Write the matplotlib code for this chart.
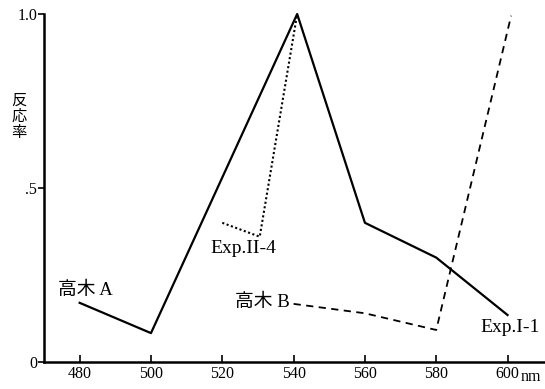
import matplotlib.pyplot as plt
import numpy as np

plt.rcParams['font.family'] = ['Liberation Serif', 'Noto Sans CJK JP']

# 高木 A / Exp.I-1 (solid)
xa = [480, 500, 541, 560, 580, 600]
ya = [0.17, 0.083, 1.0, 0.40, 0.30, 0.135]
# Exp.II-4 (dotted)
xd = [520, 530.5, 541]
yd = [0.40, 0.36, 1.0]
# 高木 B (dashed)
xb = [540, 560, 580, 601]
yb = [0.167, 0.14, 0.092, 0.995]

xticks = [480, 500, 520, 540, 560, 580, 600]
yticks = [0, 0.5, 1.0]
yticklabels = ['0', '.5', '1.0']

fig = plt.figure(figsize=(5.45, 3.89), dpi=100)
ax = fig.add_axes([44/545, 1-362/389, 1-44/545, 348/389])

ax.plot(xa, ya, color='black', lw=1.6, clip_on=False)
ax.plot(xd, yd, color='black', lw=1.5, ls=(0, (1, 1.2)), clip_on=False)
ax.plot(xb, yb, color='black', lw=1.3, ls=(0, (4, 3)), clip_on=False)

ax.set_xlim(470, 610.5)
ax.set_ylim(0, 1.0)
ax.spines['top'].set_visible(False)
ax.spines['right'].set_visible(False)
ax.spines['left'].set_linewidth(1.8)
ax.spines['bottom'].set_linewidth(1.8)

ax.set_xticks(xticks)
ax.set_xticklabels([str(t) for t in xticks], fontsize=11.5)
ax.tick_params(axis='x', direction='in', length=5, width=1.2, pad=3)
ax.set_yticks(yticks)
ax.set_yticklabels(yticklabels, fontsize=11.5)
ax.tick_params(axis='y', direction='out', length=4, width=1.2, pad=1)

fig.text(541/545, 1-377/389, 'nm', fontsize=11.5, ha='right', va='center')
for i, ch in enumerate('反応率'):
    fig.text(19/545, 1-(101 + i*16)/389, ch, fontsize=11, ha='center', va='center')

ax.text(474, 0.207, '高木 A', fontsize=13.5, ha='left', va='center')
ax.text(539, 0.17, '高木 B', fontsize=13.5, ha='right', va='center')
ax.text(525.8, 0.325, 'Exp.II-4', fontsize=14, ha='center', va='center')
ax.text(600.7, 0.10, 'Exp.I-1', fontsize=14, ha='center', va='center')

fig.savefig('out.png', dpi=100)
